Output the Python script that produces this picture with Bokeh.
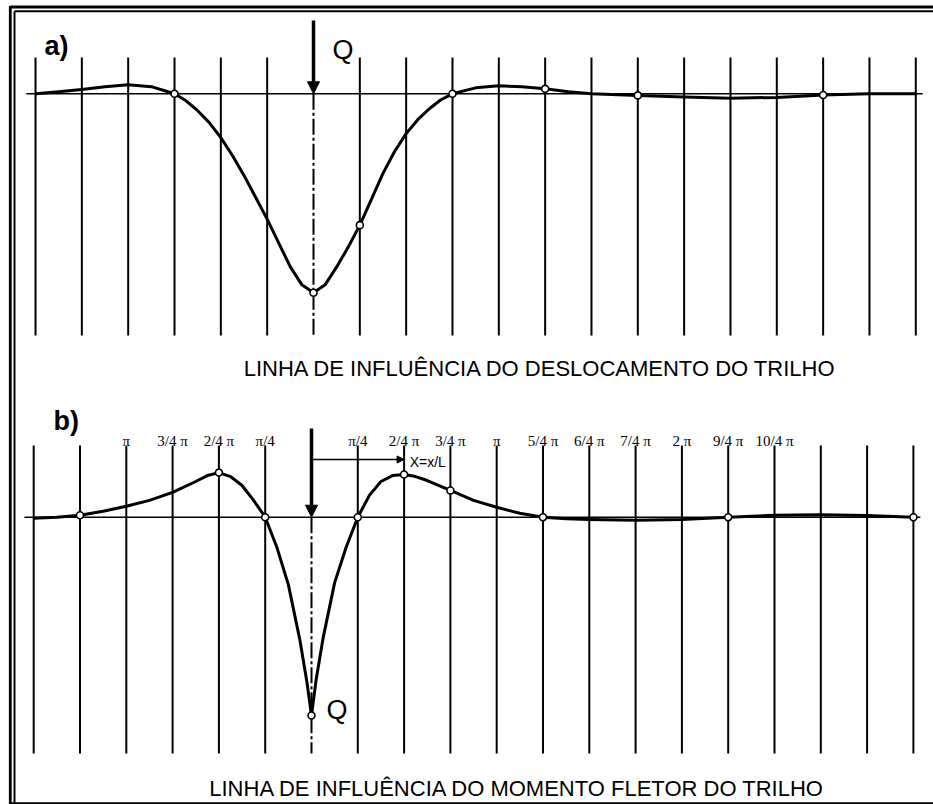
from bokeh.plotting import figure
from bokeh.models import Range1d, Arrow, NormalHead
from bokeh.core.properties import value
from bokeh.embed import file_html
from bokeh.resources import INLINE

# ---------------- data (x in units of pi/4, y = ordinate, positive downwards) ----------------
grid_idx = list(range(-6, 14))

# a) influence line of rail displacement
a_x = [-6, -5.5, -5, -4.5, -4, -3.5, -3, -2.75, -2.5, -2.25, -2, -1.75, -1.5, -1.25, -1,
       -0.75, -0.5, -0.25, 0, 0.25, 0.5, 0.75, 1, 1.25, 1.5, 1.75, 2, 2.25, 2.5, 2.75, 3,
       3.5, 4, 4.5, 5, 5.5, 6, 7, 8, 9, 10, 11, 12, 13]
a_y = [0.0, -0.01, -0.022, -0.036, -0.046, -0.036, 0.0, 0.035, 0.085, 0.145, 0.22, 0.31, 0.41, 0.52, 0.63,
       0.75, 0.87, 0.96, 1.0, 0.96, 0.87, 0.77, 0.66, 0.53, 0.40, 0.29, 0.20, 0.13, 0.075, 0.03, 0.0,
       -0.03, -0.04, -0.035, -0.025, -0.01, 0.0, 0.008, 0.016, 0.022, 0.018, 0.006, 0.0, 0.0]
a_marks = [-3, 0, 1, 3, 5, 7, 11]

# b) influence line of rail bending moment
b_x = [-6, -5.5, -5, -4.5, -4, -3.5, -3, -2.5, -2.25, -2, -1.75, -1.5, -1.25, -1,
       -0.75, -0.5, -0.25, -0.1, 0, 0.1, 0.25, 0.5, 0.75, 1, 1.25, 1.5, 1.75, 2, 2.25, 2.5,
       3, 3.5, 4, 4.5, 5, 5.5, 6, 7, 8, 9, 10, 11, 12, 13]
b_y = [0.005, 0.0, -0.01, -0.03, -0.055, -0.085, -0.125, -0.18, -0.21, -0.225, -0.205, -0.16, -0.085, 0.0,
       0.15, 0.34, 0.62, 0.83, 1.0, 0.82, 0.61, 0.33, 0.15, 0.0, -0.11, -0.18, -0.21, -0.215, -0.205, -0.185,
       -0.135, -0.085, -0.05, -0.02, 0.0, 0.008, 0.012, 0.015, 0.012, 0.0, -0.01, -0.012, -0.008, 0.0]
b_marks = [-5, -2, -1, 0, 1, 2, 3, 5, 9, 13]

b_tick_pos = [-4, -3, -2, -1, 1, 2, 3, 4, 5, 6, 7, 8, 9, 10]
b_tick_lbl = ["π", "3/4 π", "2/4 π", "π/4", "π/4", "2/4 π", "3/4 π", "π",
              "5/4 π", "6/4 π", "7/4 π", "2 π", "9/4 π", "10/4 π"]

title_a = "LINHA DE INFLUÊNCIA DO DESLOCAMENTO DO TRILHO"
title_b = "LINHA DE INFLUÊNCIA DO MOMENTO FLETOR DO TRILHO"

# ---------------- layout ----------------
OFF = 0
W, H = 933, 804
A_X0, A_DX, A_Y0, A_DY = 313.0, 46.33, 93.3, 199.0
B_X0, B_DX, B_Y0, B_DY = 311.0, 46.3, 516.7, 198.3


def xr(x0, dx):
    return Range1d((OFF - x0) / dx, (OFF + W - x0) / dx)


def yr(y0, dy):
    return Range1d((OFF + H - y0) / dy, (OFF - y0) / dy)


p = figure(width=W, height=H, x_range=Range1d(OFF, OFF + W), y_range=Range1d(OFF + H, OFF),
           output_backend="svg", toolbar_location=None, min_border=0,
           x_axis_location=None, y_axis_location=None,
           background_fill_color="white", border_fill_color="white", outline_line_color=None)
p.grid.visible = False
p.extra_x_ranges = {"xa": xr(A_X0, A_DX), "xb": xr(B_X0, B_DX)}
p.extra_y_ranges = {"ya": yr(A_Y0, A_DY), "yb": yr(B_Y0, B_DY)}

# frame (page pixel coordinates)
p.segment(x0=[9.8, 14, 9.8, 14, 9.8], y0=[5.5, 10.8, 6.5, 10.8, 803],
          x1=[9.8, 14, 933, 933, 933], y1=[804, 804, 6.5, 10.8, 803],
          line_color="black", line_width=[2.8, 2, 2.8, 2, 2.5])

SANS = value("Liberation Sans")
SERIF = value("Liberation Serif")


def panel(xn, yn, xs, ys, marks, y0, dy, top_px, bot_px, arrow_px):
    to_v = lambda py: (py - y0) / dy
    vt, vb = to_v(top_px), to_v(bot_px)
    g = [i for i in grid_idx if i != 0]
    p.segment(x0=g, y0=[vt] * len(g), x1=g, y1=[vb] * len(g),
              x_range_name=xn, y_range_name=yn, line_color="black", line_width=2)
    p.segment(x0=[0], y0=[0], x1=[0], y1=[vb], x_range_name=xn, y_range_name=yn,
              line_color="black", line_width=2, line_dash="16 3 3 3")
    p.segment(x0=[-6.2], y0=[0], x1=[13.15], y1=[0], x_range_name=xn, y_range_name=yn,
              line_color="black", line_width=1.5)
    p.line(xs, ys, x_range_name=xn, y_range_name=yn, line_color="black", line_width=3,
           line_join="round")
    lookup = dict(zip(xs, ys))
    p.scatter([m for m in marks], [lookup[m] for m in marks], x_range_name=xn, y_range_name=yn,
              marker="circle", size=7, fill_color="white", line_color="black", line_width=1.6)
    p.add_layout(Arrow(end=NormalHead(size=12, fill_color="black", line_color="black"),
                       x_start=0, y_start=to_v(arrow_px), x_end=0, y_end=0,
                       line_width=3.5, line_color="black", x_range_name=xn, y_range_name=yn))
    return to_v


va = panel("xa", "ya", a_x, a_y, a_marks, A_Y0, A_DY, 57, 335, 20)
vb = panel("xb", "yb", b_x, b_y, b_marks, B_Y0, B_DY, 445, 753, 428)

# tick labels of panel b
p.text(x=b_tick_pos, y=[vb(440)] * len(b_tick_pos), text=b_tick_lbl, x_range_name="xb", y_range_name="yb",
       text_font=SERIF, text_font_size="15px", text_align="center", text_baseline="alphabetic",
       text_color="black")

# X = x/L dimension
p.add_layout(Arrow(end=NormalHead(size=7, fill_color="black", line_color="black"),
                   x_start=0, y_start=vb(459), x_end=2, y_end=vb(459),
                   line_width=1.5, line_color="black", x_range_name="xb", y_range_name="yb"))
p.text(x=[2.12], y=[vb(461)], text=["X=x/L"], x_range_name="xb", y_range_name="yb",
       text_font=SANS, text_font_size="14px", text_align="left", text_baseline="middle",
       text_color="black")

# panel letters, loads and titles (page coordinates)
p.text(x=[44, 53], y=[45, 420], text=["a)", "b)"], text_font=SANS, text_font_style="bold",
       text_font_size="27px", text_align="left", text_baseline="alphabetic", text_color="black")
p.text(x=[332, 326], y=[49, 709], text=["Q", "Q"], text_font=SANS, text_font_size="27px",
       text_align="left", text_baseline="alphabetic", text_color="black")
p.text(x=[540, 517], y=[368, 788], text=[title_a, title_b], text_font=SANS, text_font_size="22px",
       text_align="center", text_baseline="alphabetic", text_color="black")

open("out.html", "w").write(file_html(p, INLINE))
